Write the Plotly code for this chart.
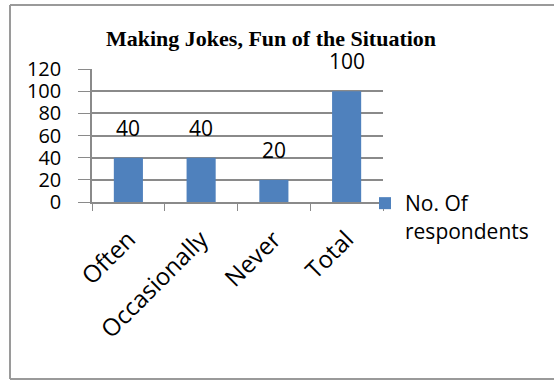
import plotly.graph_objects as go

categories = ["Often", "Occasionally", "Never", "Total"]
respondents = [40, 40, 20, 100]
series_name = "No. Of<br>respondents"
y_ticks = [0, 20, 40, 60, 80, 100, 120]

W, H = 554, 380
L, R, T, B = 92, 171, 69, 178
pw, ph = W - L - R, H - T - B


def px_x(x):
    return (x - L) / pw


def px_y(y):
    return (H - B - y) / ph


BODY = "Open Sans"
GRID = "#8a8a8a"
FRAME = "#9a9a9a"

fig = go.Figure()
fig.add_trace(go.Bar(
    x=categories, y=respondents, name=series_name,
    marker=dict(color="#4F81BD", line=dict(width=0)),
    showlegend=True,
))

for c, v in zip(categories, respondents):
    fig.add_annotation(
        x=c, y=v, text=str(v), showarrow=False,
        yanchor="bottom", yshift=14,
        font=dict(family=BODY, size=21, color="#000"),
    )

fig.add_annotation(
    xref="paper", yref="paper", x=px_x(271), y=px_y(53),
    text="<b>Making Jokes, Fun of the Situation</b>", showarrow=False,
    xanchor="center", yanchor="bottom",
    font=dict(family="Liberation Serif", size=22, color="#000"),
)

# outer frame: top, left and bottom edges
for x0, y0, x1, y1 in [(10, 5, 560, 5), (10, 5, 10, 379), (10, 379, 560, 379)]:
    fig.add_shape(
        type="line", xref="paper", yref="paper",
        x0=px_x(x0), y0=px_y(y0), x1=px_x(x1), y1=px_y(y1),
        line=dict(color=FRAME, width=2), layer="below",
    )

fig.update_layout(
    width=W, height=H,
    margin=dict(l=L, r=R, t=T, b=B),
    paper_bgcolor="white", plot_bgcolor="white",
    bargap=0.6,
    showlegend=True,
    legend=dict(
        x=px_x(365), y=px_y(183), xanchor="left", yanchor="top",
        valign="top", font=dict(family=BODY, size=21, color="#000"),
        bgcolor="rgba(0,0,0,0)",
    ),
    xaxis=dict(
        tickangle=-45, tickson="boundaries", ticks="outside", ticklen=7,
        tickcolor=GRID, showline=True, linecolor=GRID, linewidth=1.5,
        tickfont=dict(family=BODY, size=24, color="#000"),
        ticklabelstandoff=12, showgrid=False,
    ),
    yaxis=dict(
        range=[0, 120], tickvals=y_ticks, ticks="outside", ticklen=12,
        tickcolor=GRID, showline=True, linecolor=GRID, linewidth=1.5,
        showgrid=True, gridcolor=GRID, gridwidth=1.5,
        tickfont=dict(family=BODY, size=20, color="#000"),
        ticklabelstandoff=13, zeroline=False,
    ),
)

fig.write_html("out.html")
